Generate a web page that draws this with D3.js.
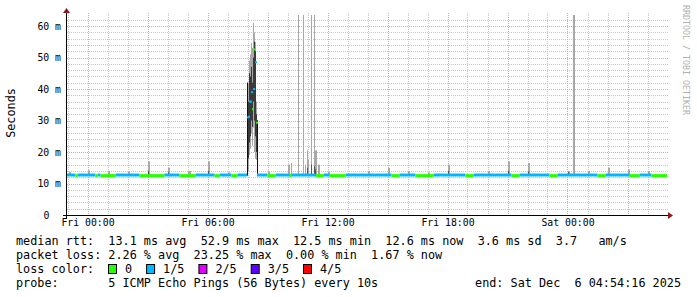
<!DOCTYPE html>
<html>
<head>
<script src="https://d3js.org/d3.v7.min.js"></script>
<style>
  body { margin: 0; background: #fff; }
  text { font-family: "DejaVu Sans Mono", monospace; }
</style>
</head>
<body>
<div id="chart"></div>
<script>
// hours are counted from Fri 00:00 (UTC here), values in ms
var medianRuns = [
  // [from hour, to hour, median ms, loss index]
  [-1.05, -0.6, 12.7, 1], [-0.6, -0.5, 12.5, 0], [-0.5, 0.4, 12.7, 1], [0.4, 0.5, 12.5, 0],
  [0.5, 0.65, 12.7, 1], [0.65, 1.4, 12.5, 0], [1.4, 2.6, 12.7, 1], [2.6, 3.85, 12.5, 0],
  [3.85, 4.6, 12.7, 1], [4.6, 5.4, 12.5, 0], [5.4, 6.35, 12.7, 1], [6.35, 6.6, 12.5, 0],
  [6.6, 7.2, 12.7, 1], [7.2, 7.5, 12.5, 0], [7.5, 7.975, 12.7, 1],
  [8.475, 9.0, 12.7, 1], [9.0, 9.4, 12.5, 0], [9.4, 10.1, 12.7, 1], [10.1, 10.2, 12.5, 0],
  [10.2, 11.4, 12.7, 1], [11.4, 11.8, 12.5, 0], [11.8, 12.1, 12.7, 1], [12.1, 12.9, 12.5, 0],
  [12.9, 15.2, 12.7, 1], [15.2, 15.6, 12.5, 0], [15.6, 16.4, 12.7, 1], [16.4, 17.3, 12.5, 0],
  [17.3, 18.9, 12.7, 1], [18.9, 19.3, 12.5, 0], [19.3, 21.2, 12.7, 1], [21.2, 21.6, 12.5, 0],
  [21.6, 23.1, 12.7, 1], [23.1, 23.5, 12.5, 0], [23.5, 25.5, 12.7, 1], [25.5, 25.9, 12.5, 0],
  [25.9, 27.1, 12.7, 1], [27.1, 27.6, 12.5, 0], [27.6, 28.2, 12.7, 1], [28.2, 28.975, 12.5, 0]
];

// light smoke: [hour, low ms, high ms, width in 3-minute columns]
var smokeLight = [
  [-0.925, 12.4, 13.6, 2], [0.025, 12.4, 14.2, 2], [1.025, 12.4, 14.0, 2], [2.025, 12.4, 13.8, 2],
  [3.025, 12.4, 17.0, 2], [4.025, 12.4, 15.0, 2], [5.025, 12.4, 14.0, 3], [6.025, 12.4, 17.0, 2],
  [7.025, 12.4, 13.5, 2], [9.025, 12.4, 13.8, 2], [10.025, 12.4, 16.0, 2], [10.175, 12.4, 16.5, 1],
  [10.525, 12.4, 64.0, 1], [10.775, 12.4, 64.0, 1], [10.875, 12.4, 16.0, 1], [10.975, 12.4, 20.5, 1],
  [11.025, 12.4, 17.5, 1], [11.175, 12.4, 64.0, 1], [11.325, 12.4, 64.0, 1], [11.375, 12.4, 20.5, 2],
  [11.525, 12.4, 16.0, 2], [12.025, 12.4, 13.6, 2], [14.025, 12.4, 14.0, 2], [15.025, 12.4, 15.0, 2],
  [16.025, 12.4, 14.0, 2], [17.025, 12.4, 13.5, 2], [18.025, 12.4, 16.0, 2], [20.025, 12.4, 14.0, 2],
  [21.025, 12.4, 17.0, 2], [22.025, 12.4, 16.5, 2], [24.025, 12.4, 14.0, 2], [24.275, 12.4, 64.0, 2],
  [25.025, 12.4, 14.0, 2], [26.025, 12.4, 15.0, 2], [27.025, 12.4, 14.5, 2], [28.025, 12.4, 14.0, 2]
];

// dark smoke near the median: [hour, low ms, high ms]
var smokeDark = [
  [3.025, 12.4, 14.0], [4.025, 12.4, 13.6], [6.025, 12.4, 14.0], [10.975, 12.4, 15.0],
  [11.175, 12.4, 16.0], [11.325, 12.4, 15.5], [11.375, 12.4, 14.5], [18.025, 12.4, 14.0],
  [21.025, 12.4, 14.0], [22.025, 12.4, 13.8], [24.025, 12.4, 13.6]
];

// the morning spike, one 3-minute column each:
// [hour, min, low, high, max, median, loss]
var spikeCols = [
  [7.975, 12.6, 14.0, 42.0, 42.0, 31.0, 1],
  [8.025, 14.0, 18.0, 36.0, 42.0, 31.2, 1],
  [8.075, 19.0, 23.0, 45.0, 49.0, 36.0, 1],
  [8.125, 21.0, 25.0, 44.0, 51.0, 36.0, 1],
  [8.175, 26.0, 30.0, 47.0, 54.6, 39.0, 1],
  [8.225, 22.0, 28.0, 42.0, 53.0, 33.6, 0],
  [8.275, 28.0, 36.0, 50.0, 61.0, 40.0, 1],
  [8.325, 20.0, 30.0, 55.0, 58.0, 52.6, 0],
  [8.375, 18.0, 25.0, 52.0, 55.0, 48.5, 1],
  [8.425, 17.5, 20.0, 32.0, 36.0, 29.3, 0],
  [8.475, 12.6, 17.5, 30.0, 30.0, 12.7, 1]
];

var yTicks = [0, 10, 20, 30, 40, 50, 60];
var yTickLabels = ["0", "10 m", "20 m", "30 m", "40 m", "50 m", "60 m"];
var lossLabels = ["0", "1/5", "2/5", "3/5", "4/5"];
var lossColors = ["#26ff00", "#00b8ff", "#e100ff", "#5a00ff", "#ff0000"];

var legendRtt = ["median rtt:", "13.1 ms avg", "52.9 ms max", "12.5 ms min", "12.6 ms now", "3.6 ms sd", "3.7", "am/s"];
var legendLoss = ["packet loss:", "2.26 % avg", "23.25 % max", "0.00 % min", "1.67 % now"];
var probeText = "5 ICMP Echo Pings (56 Bytes) every 10s";
var endText = "end: Sat Dec  6 04:54:16 2025";

var W = 697, H = 297;
var base = Date.UTC(2025, 11, 5, 0, 0, 0);
function t(h) { return new Date(base + h * 3600e3); }

var svg = d3.select("#chart").append("svg")
  .attr("width", W).attr("height", H);
svg.append("rect").attr("width", W).attr("height", H).attr("fill", "#fff");

var x = d3.scaleUtc()
  .domain([t(-1.025), t(28.975)])
  .range([67, 667]);
var y = d3.scaleLinear()
  .domain([0, 63.5])
  .range([215, 15]);

var plotTop = 13, plotRight = 668;

// minor grid
var hMinor = d3.range(2, 64, 2).filter(v => v % 10 != 0);
svg.append("g").selectAll("line").data(hMinor).enter().append("line")
  .attr("x1", 67).attr("x2", plotRight)
  .attr("y1", d => Math.round(y(d)) + 0.5).attr("y2", d => Math.round(y(d)) + 0.5)
  .attr("stroke", "#c8c8c8").attr("stroke-dasharray", "1,1");
var vMinor = x.ticks(d3.utcHour.every(1)).filter(d => d.getUTCHours() % 3 != 0);
svg.append("g").selectAll("line").data(vMinor).enter().append("line")
  .attr("x1", d => Math.round(x(d)) + 0.5).attr("x2", d => Math.round(x(d)) + 0.5)
  .attr("y1", plotTop).attr("y2", 215)
  .attr("stroke", "#c8c8c8").attr("stroke-dasharray", "1,1");

// major grid
svg.append("g").selectAll("line").data(yTicks.slice(1)).enter().append("line")
  .attr("x1", 67).attr("x2", plotRight)
  .attr("y1", d => Math.round(y(d)) + 0.5).attr("y2", d => Math.round(y(d)) + 0.5)
  .attr("stroke", "#e3a5a5").attr("stroke-dasharray", "1,1");
var vMajor = x.ticks(d3.utcHour.every(3));
svg.append("g").selectAll("line").data(vMajor).enter().append("line")
  .attr("x1", d => Math.round(x(d)) + 0.5).attr("x2", d => Math.round(x(d)) + 0.5)
  .attr("y1", plotTop).attr("y2", 215)
  .attr("stroke", "#e3a5a5").attr("stroke-dasharray", "1,1");

// smoke
var colW = x(t(0.05)) - x(t(0));
svg.append("g").selectAll("rect").data(smokeLight).enter().append("rect")
  .attr("x", d => Math.round(x(t(d[0])))).attr("width", d => Math.round(d[3] * colW))
  .attr("y", d => y(Math.min(d[2], 63.5))).attr("height", d => y(d[1]) - y(Math.min(d[2], 63.5)))
  .attr("fill", "#a8a8a8");
svg.append("g").selectAll("rect").data(smokeDark).enter().append("rect")
  .attr("x", d => Math.round(x(t(d[0])))).attr("width", 1)
  .attr("y", d => y(d[2])).attr("height", d => y(d[1]) - y(d[2]))
  .attr("fill", "#555");

var spike = svg.append("g");
spike.selectAll("rect.o").data(spikeCols).enter().append("rect")
  .attr("x", d => Math.round(x(t(d[0])))).attr("width", Math.ceil(colW))
  .attr("y", d => y(d[4])).attr("height", d => y(d[1]) - y(d[4]))
  .attr("fill", "#a8a8a8");
spike.selectAll("rect.i").data(spikeCols).enter().append("rect")
  .attr("x", d => Math.round(x(t(d[0])))).attr("width", Math.ceil(colW))
  .attr("y", d => y(d[3])).attr("height", d => y(d[2]) - y(d[3]))
  .attr("fill", "#3a3a3a");
// edges of the spike
spike.selectAll("line").data([spikeCols[0], spikeCols[spikeCols.length - 1]]).enter().append("line")
  .attr("x1", d => Math.round(x(t(d[0]))) + 0.5).attr("x2", d => Math.round(x(t(d[0]))) + 0.5)
  .attr("y1", d => y(12.5)).attr("y2", d => y(d[3]))
  .attr("stroke", "#111").attr("stroke-width", 1);
spike.selectAll("rect.m").data(spikeCols).enter().append("rect")
  .attr("x", d => Math.round(x(t(d[0])))).attr("width", 2)
  .attr("y", d => y(d[5]) - 1).attr("height", 2)
  .attr("fill", d => lossColors[d[6]]);

// median line
svg.append("g").selectAll("rect").data(medianRuns).enter().append("rect")
  .attr("x", d => x(t(d[0]))).attr("width", d => x(t(d[1])) - x(t(d[0])))
  .attr("y", d => y(d[2]) - 1.5).attr("height", 3)
  .attr("fill", d => lossColors[d[3]]);

// axes
svg.append("line").attr("x1", 63).attr("x2", 668).attr("y1", 215.5).attr("y2", 215.5)
  .attr("stroke", "#000");
svg.append("line").attr("x1", 66.5).attr("x2", 66.5).attr("y1", 219).attr("y2", 12)
  .attr("stroke", "#000");
svg.append("path").attr("d", "M668,212 L673,215.5 L668,219 Z").attr("fill", "#8b1c1c");
svg.append("path").attr("d", "M63,13 L66.5,8 L70,13 Z").attr("fill", "#8b1c1c");

// tick labels
var xAxis = d3.axisBottom(x)
  .ticks(d3.utcHour.every(6))
  .tickFormat(d3.utcFormat("%a %H:%M"))
  .tickSize(0).tickPadding(0);
var gx = svg.append("g").attr("transform", "translate(0,219)").call(xAxis);
gx.select(".domain").remove();
gx.selectAll("text").attr("dy", "0.71em").attr("y", 0)
  .style("font-family", "DejaVu Sans Mono").style("font-size", "9.8px").attr("fill", "#000");

var yAxis = d3.axisLeft(y).tickValues(yTicks)
  .tickFormat((d, i) => yTickLabels[i]).tickSize(0).tickPadding(0);
var gy = svg.append("g").attr("transform", "translate(61,0)").call(yAxis);
gy.select(".domain").remove();
gy.selectAll("text")
  .style("font-family", "DejaVu Sans Mono").style("font-size", "9.8px").attr("fill", "#000")
  .attr("x", (d, i) => i == 0 ? -11.5 : 0);

svg.append("text")
  .attr("transform", "translate(15,113) rotate(-90)")
  .attr("text-anchor", "middle")
  .style("font-size", "11.8px").text("Seconds");

svg.append("text")
  .attr("transform", "translate(683,5) rotate(90)")
  .style("font-size", "8.3px").attr("fill", "#b0b0b0")
  .text("RRDTOOL / TOBI OETIKER");

// legend
var fs = "11.8px", cw = 7.1, lx = 16;
function put(str, col, row) {
  svg.append("text").attr("x", lx + col * cw).attr("y", 245 + row * 14)
    .style("font-size", fs).style("white-space", "pre").attr("xml:space", "preserve")
    .text(str);
}
put(legendRtt.join("  ").replace("3.7  am/s", "3.7   am/s"), 0, 0);
put(legendLoss[0] + " " + legendLoss.slice(1).join("  "), 0, 1);
put("loss color:", 0, 2);
var bx = 108;
lossLabels.forEach(function (lab, i) {
  svg.append("rect").attr("x", bx + 0.5).attr("y", 264.5).attr("width", 8).attr("height", 9)
    .attr("fill", lossColors[i]).attr("stroke", "#000");
  svg.append("text").attr("x", bx + 17).attr("y", 273).style("font-size", fs).text(lab);
  bx = bx + 17 + lab.length * cw + 14;
});
put("probe:", 0, 3);
put(probeText, 13, 3);
svg.append("text").attr("x", 681).attr("y", 287).attr("text-anchor", "end")
  .style("font-size", fs).style("white-space", "pre").text(endText);
</script>
</body>
</html>
